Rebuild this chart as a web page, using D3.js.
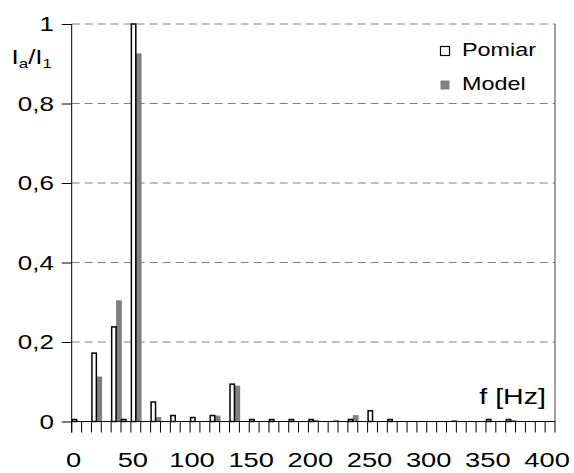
<!DOCTYPE html>
<html><head><meta charset="utf-8">
<script src="https://cdn.jsdelivr.net/npm/d3@7"></script>
<style>html,body{margin:0;padding:0;background:#fff;}svg{display:block;}</style>
</head><body>
<svg id="c" width="574" height="473"></svg>
<script>
// Frequencies (Hz) of the categories, step 50/6 Hz
const freqs = [0, 8.33, 16.67, 25, 33.33, 41.67, 50, 58.33, 66.67, 75, 83.33, 91.67,
  100, 108.33, 116.67, 125, 133.33, 141.67, 150, 158.33, 166.67, 175, 183.33, 191.67,
  200, 208.33, 216.67, 225, 233.33, 241.67, 250, 258.33, 266.67, 275, 283.33, 291.67,
  300, 308.33, 316.67, 325, 333.33, 341.67, 350, 358.33, 366.67, 375, 383.33, 391.67, 400];
const pomiar = [0.005, 0, 0.172, 0, 0.238, 0.005, 1.0, 0, 0.049, 0, 0.015, 0,
  0.01, 0, 0.015, 0, 0.094, 0, 0.005, 0, 0.005, 0, 0.005, 0,
  0.005, 0, 0, 0, 0.005, 0, 0.027, 0, 0.005, 0, 0, 0,
  0, 0, 0, 0, 0, 0, 0.005, 0, 0.005, 0, 0, 0, 0];
const model = [0, 0, 0.113, 0, 0.305, 0, 0.926, 0, 0.011, 0, 0, 0,
  0, 0, 0.015, 0, 0.09, 0, 0, 0, 0, 0, 0, 0,
  0.004, 0, 0.004, 0, 0.016, 0, 0, 0, 0, 0, 0, 0,
  0, 0, 0.004, 0, 0, 0, 0, 0, 0.004, 0, 0, 0, 0];
const yTicks = [0, 0.2, 0.4, 0.6, 0.8, 1];
const xTickLabels = ["0", "50", "100", "150", "200", "250", "300", "350", "400"];
const seriesNames = ["Pomiar", "Model"];

const svg = d3.select("#c");
const L = 71.7, R = 555, T = 24, B = 421.5;
const font = "'Liberation Sans', Arial, sans-serif";
const SX = 1.3; // horizontal stretch of the lettering

function txt(g, ax, ay, size, anchor) {
  return g.append("text").attr("transform", `translate(${ax},${ay}) scale(${SX},1)`)
    .attr("text-anchor", anchor).attr("font-family", font).attr("font-size", size).attr("fill", "#000");
}

const x = d3.scaleBand().domain(freqs.map((d, i) => i)).range([L, R]).paddingInner(0).paddingOuter(0);
const y = d3.scaleLinear().domain([0, 1]).range([B, T]);
const bw = x.bandwidth();

// gridlines
svg.append("g").selectAll("line").data(yTicks.filter(d => d > 0)).join("line")
  .attr("x1", L).attr("x2", R).attr("y1", d => y(d)).attr("y2", d => y(d))
  .attr("stroke", "#808080").attr("stroke-width", 1).attr("stroke-dasharray", "8,5");

// right border
svg.append("line").attr("x1", R).attr("x2", R).attr("y1", T).attr("y2", B)
  .attr("stroke", "#404040").attr("stroke-width", 1);

// Model bars
svg.append("g").selectAll("rect").data(model.map((v, i) => ({v, i})).filter(d => d.v > 0)).join("rect")
  .attr("x", d => x(d.i) + bw / 2).attr("width", bw / 2 + 0.8)
  .attr("y", d => y(d.v)).attr("height", d => B - y(d.v))
  .attr("fill", "#808080");

// Pomiar bars
svg.append("g").selectAll("rect").data(pomiar.map((v, i) => ({v, i})).filter(d => d.v > 0)).join("rect")
  .attr("x", d => x(d.i) + 0.5).attr("width", bw / 2 - 0.5)
  .attr("y", d => y(d.v)).attr("height", d => B - y(d.v))
  .attr("fill", "#fff").attr("stroke", "#000").attr("stroke-width", 1.5);

// Y axis
const yAxis = d3.axisLeft(y).tickValues(yTicks).tickSize(10).tickFormat("");
const gy = svg.append("g").attr("transform", `translate(${L},0)`).call(yAxis);
gy.select(".domain").remove();
gy.selectAll(".tick line").attr("stroke", "#000");
const yFmt = d => d3.format(".1~f")(d).replace(".", ",");
yTicks.forEach(v => txt(svg, 54, y(v) + 7, 20, "end").text(yFmt(v)));
svg.append("line").attr("x1", L).attr("x2", L).attr("y1", T).attr("y2", B + 11).attr("stroke", "#000");

// X axis
const boundaries = freqs.map((d, i) => x(i)).concat([R]);
svg.append("g").selectAll("line").data(boundaries).join("line")
  .attr("x1", d => d).attr("x2", d => d).attr("y1", B).attr("y2", B + 11)
  .attr("stroke", "#000").attr("stroke-width", 1);
svg.append("line").attr("x1", L).attr("x2", R).attr("y1", B).attr("y2", B).attr("stroke", "#000");
xTickLabels.forEach((lab, k) => txt(svg, x(k * 6) + bw / 2 - 3, 467, 21, "middle").text(lab));

// axis titles
const yt = txt(svg, 52, 64, 20, "end");
yt.append("tspan").text("I");
yt.append("tspan").attr("font-size", 13).attr("dy", 4).text("a");
yt.append("tspan").attr("dy", -4).text("/I");
yt.append("tspan").attr("font-size", 13).attr("dy", 4).text("1");

txt(svg, 546, 404, 22, "end").text("f [Hz]");

// legend
seriesNames.forEach((name, i) => {
  const yy = 46 + i * 34;
  svg.append("rect").attr("x", 440.5).attr("y", yy + 0.5).attr("width", 9).attr("height", 9)
    .attr("fill", i === 0 ? "#fff" : "#808080").attr("stroke", i === 0 ? "#000" : "none").attr("stroke-width", 1.2);
  txt(svg, 462, yy + 10, 18, "start").text(name);
});
</script>
</body></html>
